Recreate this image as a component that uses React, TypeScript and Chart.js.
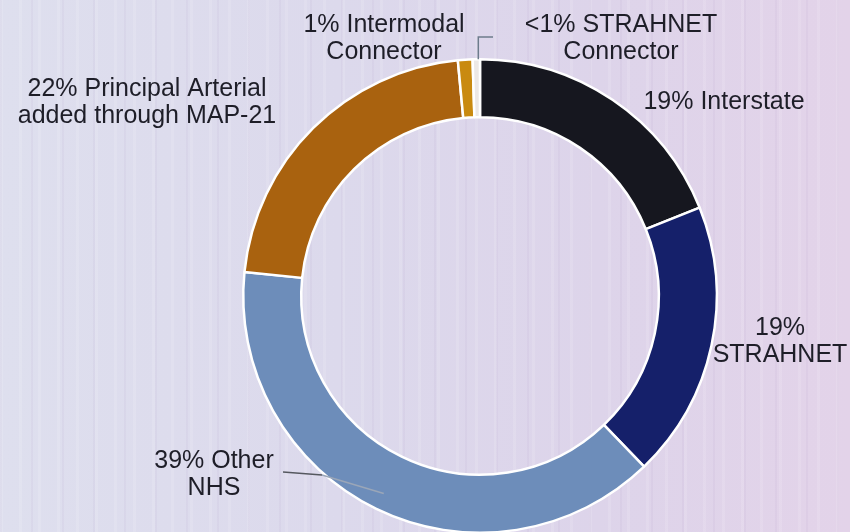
import React, { useEffect, useRef } from "react";
import { Chart, registerables } from "chart.js";

Chart.register(...registerables);

const categories = [
  "Interstate",
  "STRAHNET",
  "Other NHS",
  "Principal Arterial added through MAP-21",
  "Intermodal Connector",
  "STRAHNET Connector",
];
const shares = [19, 19, 39, 22, 1, 0.5];
const labelLines = [
  ["19% Interstate"],
  ["19%", "STRAHNET"],
  ["39% Other", "NHS"],
  ["22% Principal Arterial", "added through MAP-21"],
  ["1% Intermodal", "Connector"],
  ["<1% STRAHNET", "Connector"],
];
const colors = ["#16171f", "#15206a", "#6d8dba", "#a9620f", "#c98a10", "#ece8e6"];

// label layout (canvas px): centre x, first baseline y
const labelLayout = [
  { x: 724, y: 109 },
  { x: 780, y: 335 },
  { x: 214, y: 468 },
  { x: 147, y: 96 },
  { x: 384, y: 32 },
  { x: 621, y: 32 },
];

const labelPlugin = {
  id: "labels",
  afterDraw(chart: any) {
    const ctx = chart.ctx;
    const meta = chart.getDatasetMeta(0);
    ctx.save();
    const arcProps = (i: number) =>
      meta.data[i].getProps(["x", "y", "startAngle", "endAngle", "outerRadius", "innerRadius"], true);
    // Other NHS leader
    {
      const p = arcProps(2);
      const a = (p.startAngle + p.endAngle) / 2;
      const r = (p.outerRadius + p.innerRadius) / 2 + 12;
      const sx = p.x + Math.cos(a) * r;
      const sy = p.y + Math.sin(a) * r;
      ctx.lineWidth = 1.5;
      ctx.strokeStyle = "#9aa6b8";
      ctx.beginPath();
      ctx.moveTo(sx, sy);
      ctx.lineTo(322, 475);
      ctx.stroke();
      ctx.strokeStyle = "#55585f";
      ctx.beginPath();
      ctx.moveTo(322, 475);
      ctx.lineTo(283, 472);
      ctx.stroke();
    }
    // STRAHNET connector leader
    {
      const p = arcProps(5);
      const a = (p.startAngle + p.endAngle) / 2;
      const r = p.outerRadius;
      const sx = p.x + Math.cos(a) * r;
      const sy = p.y + Math.sin(a) * r;
      ctx.lineWidth = 1.5;
      ctx.strokeStyle = "#6d7c8c";
      ctx.beginPath();
      ctx.moveTo(sx + 2, sy);
      ctx.lineTo(sx + 2, 37);
      ctx.lineTo(493, 37);
      ctx.stroke();
    }
    // text
    ctx.fillStyle = "#1e1e28";
    ctx.font = '25px "Liberation Sans", Arial, sans-serif';
    ctx.textAlign = "center";
    ctx.textBaseline = "alphabetic";
    labelLines.forEach((lines, i) => {
      const l = labelLayout[i];
      lines.forEach((t, j) => {
        ctx.fillText(t, l.x, l.y + j * 27);
      });
    });
    ctx.restore();
  },
};

export default function App() {
  const ref = useRef<HTMLCanvasElement>(null);
  useEffect(() => {
    document.body.style.margin = "0";
    document.body.style.overflow = "hidden";
    const chart = new Chart(ref.current!, {
      type: "doughnut",
      data: {
        labels: categories,
        datasets: [
          {
            data: shares,
            backgroundColor: colors,
            borderColor: "#ffffff",
            borderWidth: 2.5,
          },
        ],
      },
      options: {
        animation: false,
        responsive: false,
        cutout: "75.5%",
        rotation: 0,
        layout: { padding: { left: 242, right: 132, top: 58, bottom: 6 } },
        plugins: { legend: { display: false }, tooltip: { enabled: false } },
      },
      plugins: [labelPlugin],
    });
    return () => chart.destroy();
  }, []);
  return (
    <div
      style={{
        position: "fixed",
        left: 0,
        top: 0,
        width: 850,
        height: 540,
        overflow: "hidden",
        background:
          "repeating-linear-gradient(90deg, rgba(255,255,255,0.12) 0px, rgba(255,255,255,0.12) 3px, rgba(255,255,255,0) 3px, rgba(255,255,255,0) 19px)," +
          "repeating-linear-gradient(90deg, rgba(140,110,170,0.06) 0px, rgba(140,110,170,0.06) 2px, rgba(140,110,170,0) 2px, rgba(140,110,170,0) 31px)," +
          "linear-gradient(90deg, #dedfee 0%, #dcd9ec 40%, #ddd4ea 70%, #e3d3e9 100%)",
      }}
    >
      <canvas ref={ref} width={850} height={540} style={{ display: "block" }} />
    </div>
  );
}
